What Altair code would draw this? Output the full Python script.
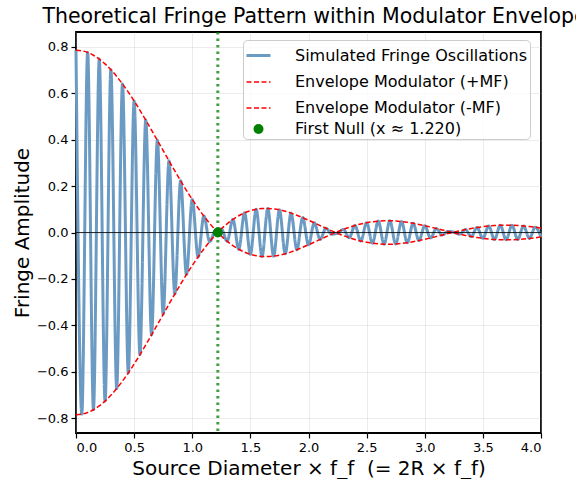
import altair as alt
import pandas as pd

# ---- data ----
sample_x = [0.0, 0.05, 0.1, 0.15, 0.2, 0.25, 0.3, 0.35, 0.4, 0.45, 0.5, 0.55, 0.6, 0.65, 0.7, 0.75,
            0.8, 0.85, 0.9, 0.95, 1.0, 1.05, 1.1, 1.15, 1.2, 1.25, 1.3, 1.35, 1.4, 1.45, 1.5, 1.55,
            1.6, 1.65, 1.7, 1.75, 1.8, 1.85, 1.9, 1.95, 2.0, 2.05, 2.1, 2.15, 2.2, 2.25, 2.3, 2.35,
            2.4, 2.45, 2.5, 2.55, 2.6, 2.65, 2.7, 2.75, 2.8, 2.85, 2.9, 2.95, 3.0, 3.05, 3.1, 3.15,
            3.2, 3.25, 3.3, 3.35, 3.4, 3.45, 3.5, 3.55, 3.6, 3.65, 3.7, 3.75, 3.8, 3.85, 3.9, 3.95, 4.0]

# fringe extrema (peaks / troughs) at each sample position
fringe_y = [0.7850, -0.7826, 0.7754, -0.7634, 0.7469, -0.7260, 0.7010, -0.6722, 0.6399, -0.6046,
            0.5665, -0.5263, 0.4843, -0.4411, 0.3970, -0.3526, 0.3085, -0.2649, 0.2224, -0.1814,
            0.1422, -0.1053, 0.0708, -0.0392, 0.0104, 0.0153, -0.0374, 0.0565, -0.0722, 0.0846,
            -0.0938, 0.1000, -0.1032, 0.1037, -0.1018, 0.0976, -0.0914, 0.0836, -0.0744, 0.0641,
            -0.0531, 0.0416, -0.0299, 0.0184, -0.0071, -0.0035, 0.0134, -0.0223, 0.0302, -0.0369,
            0.0422, -0.0463, 0.0490, -0.0504, 0.0505, -0.0494, 0.0472, -0.0439, 0.0398, -0.0349,
            0.0294, -0.0235, 0.0173, -0.0110, 0.0047, 0.0014, -0.0072, 0.0126, -0.0174, 0.0216,
            -0.0251, 0.0279, -0.0299, 0.0310, -0.0314, 0.0310, -0.0299, 0.0281, -0.0256, 0.0227,
            -0.0193]

# envelope modulator (+MF) at the same positions
envelope_mf = [0.7850, 0.7826, 0.7754, 0.7634, 0.7469, 0.7260, 0.7010, 0.6722, 0.6399, 0.6046,
               0.5665, 0.5263, 0.4843, 0.4411, 0.3970, 0.3526, 0.3085, 0.2649, 0.2224, 0.1814,
               0.1422, 0.1053, 0.0708, 0.0392, 0.0104, -0.0153, -0.0374, -0.0565, -0.0722, -0.0846,
               -0.0938, -0.1000, -0.1032, -0.1037, -0.1018, -0.0976, -0.0914, -0.0836, -0.0744, -0.0641,
               -0.0531, -0.0416, -0.0299, -0.0184, -0.0071, 0.0035, 0.0134, 0.0223, 0.0302, 0.0369,
               0.0422, 0.0463, 0.0490, 0.0504, 0.0505, 0.0494, 0.0472, 0.0439, 0.0398, 0.0349,
               0.0294, 0.0235, 0.0173, 0.0110, 0.0047, -0.0014, -0.0072, -0.0126, -0.0174, -0.0216,
               -0.0251, -0.0279, -0.0299, -0.0310, -0.0314, -0.0310, -0.0299, -0.0281, -0.0256, -0.0227,
               -0.0193]

envelope_null_x = [1.2197, 2.2331, 3.2383]
envelope_null_v = [0.0, 0.0, 0.0]

first_null = 1.220
zero_level = 0.0

labels = ["Simulated Fringe Oscillations", "Envelope Modulator (+MF)",
          "Envelope Modulator (-MF)", "First Null (x \u2248 1.220)"]
colors = ["#6b9bc3", "#ff0000", "#ff0000", "#008000"]
dashes = [[1, 0], [5, 2.5], [5, 2.5], [1, 0]]
widths = [3, 1.5, 1.5, 0]
shapes = ["stroke", "stroke", "stroke", "circle"]
sizes = [576, 576, 576, 100]

x_ticks = [0.0, 0.5, 1.0, 1.5, 2.0, 2.5, 3.0, 3.5, 4.0]
y_ticks = [-0.8, -0.6, -0.4, -0.2, 0.0, 0.2, 0.4, 0.6, 0.8]

# ---- tables ----
fringe_df = pd.DataFrame({"x": sample_x, "y": fringe_y, "series": labels[0]})
env = pd.DataFrame({"x": sample_x + envelope_null_x,
                    "mf": envelope_mf + envelope_null_v}).sort_values("x")
envp_df = pd.DataFrame({"x": env["x"], "y": env["mf"], "series": labels[1]})
envm_df = pd.DataFrame({"x": env["x"], "y": -env["mf"], "series": labels[2]})
null_df = pd.DataFrame({"x": [first_null], "y": [zero_level], "series": [labels[3]]})
zero_df = pd.DataFrame({"y": [zero_level]})

FONT = "DejaVu Sans"
W, H = 465, 401

xscale = alt.Scale(domain=[0, 4], nice=False, zero=False)
yscale = alt.Scale(domain=[-0.8635, 0.8635], nice=False, zero=False)

xaxis = alt.Axis(values=x_ticks, format=".1f", title="Source Diameter \u00d7 f_f \u00a0(= 2R \u00d7 f_f)",
                 titleX=W / 2, titleY=41, titleAlign="center", titleBaseline="alphabetic",
                 titleFontSize=20, titleFont=FONT, titleFontWeight="normal", titleColor="black",
                 labelFontSize=13, labelFont=FONT, labelColor="black", labelPadding=3,
                 tickSize=5, tickColor="black", tickWidth=1.2, domain=False,
                 grid=True, gridColor="#b0b0b0", gridOpacity=0.3, gridWidth=0.8)
yaxis = alt.Axis(values=y_ticks, format=".1f", title="Fringe Amplitude",
                 titleX=-48, titleY=H / 2, titleAngle=270, titleAlign="center",
                 titleBaseline="alphabetic",
                 titleFontSize=20, titleFont=FONT, titleFontWeight="normal", titleColor="black",
                 labelFontSize=13, labelFont=FONT, labelColor="black", labelPadding=3,
                 tickSize=5, tickColor="black", tickWidth=1.2, domain=False,
                 grid=True, gridColor="#b0b0b0", gridOpacity=0.3, gridWidth=0.8)

X = alt.X("x:Q", scale=xscale, axis=xaxis)
Y = alt.Y("y:Q", scale=yscale, axis=yaxis)

legend = alt.Legend(
    title=None, orient="none", legendX=167, legendY=8,
    labelFontSize=16, labelFont=FONT, labelColor="black", labelLimit=400,
    rowPadding=5, labelOffset=23, padding=2,
    fillColor="rgba(255,255,255,0.8)", strokeColor="#cccccc", cornerRadius=4,
    symbolOpacity=1,
)
color = alt.Color("series:N", scale=alt.Scale(domain=labels, range=colors), legend=legend)
dash = alt.StrokeDash("series:N", scale=alt.Scale(type="ordinal", domain=labels, range=dashes),
                      legend=legend)
swidth = alt.StrokeWidth("series:N", scale=alt.Scale(type="ordinal", domain=labels, range=widths),
                         legend=legend)
shape = alt.Shape("series:N", scale=alt.Scale(type="ordinal", domain=labels, range=shapes),
                  legend=legend)
size = alt.Size("series:N", scale=alt.Scale(type="ordinal", domain=labels, range=sizes),
                legend=legend)

fringe = alt.Chart(fringe_df).mark_line(interpolate="monotone").encode(
    x=X, y=Y, color=color, strokeDash=dash, strokeWidth=swidth)
env_plus = alt.Chart(envp_df).mark_line(interpolate="monotone").encode(
    x=X, y=Y, color=color, strokeDash=dash, strokeWidth=swidth)
env_minus = alt.Chart(envm_df).mark_line(interpolate="monotone").encode(
    x=X, y=Y, color=color, strokeDash=dash, strokeWidth=swidth)
zero_line = alt.Chart(zero_df).mark_rule(color="black", strokeWidth=1.2, opacity=0.8).encode(y=Y)
null_line = alt.Chart(null_df).mark_rule(color="#008000", strokeWidth=3, strokeDash=[2.5, 4],
                                         opacity=0.75).encode(x=X)
null_point = alt.Chart(null_df).mark_point(filled=True, opacity=1).encode(
    x=X, y=Y, color=color, shape=shape, size=size)

chart = alt.layer(fringe, env_plus, env_minus, zero_line, null_line, null_point).properties(
    width=W, height=H,
    title=alt.TitleParams("Theoretical Fringe Pattern within Modulator Envelope",
                          fontSize=20.5, font=FONT, fontWeight="normal", color="black",
                          anchor="middle", offset=3, dx=6),
    autosize=alt.AutoSizeParams(type="none"),
    padding={"left": 76, "top": 32, "right": 35, "bottom": 46},
).configure(background="white").configure_view(stroke="black", strokeWidth=1.8)

chart.save("out.html", embed_options={"renderer": "svg", "actions": False})
